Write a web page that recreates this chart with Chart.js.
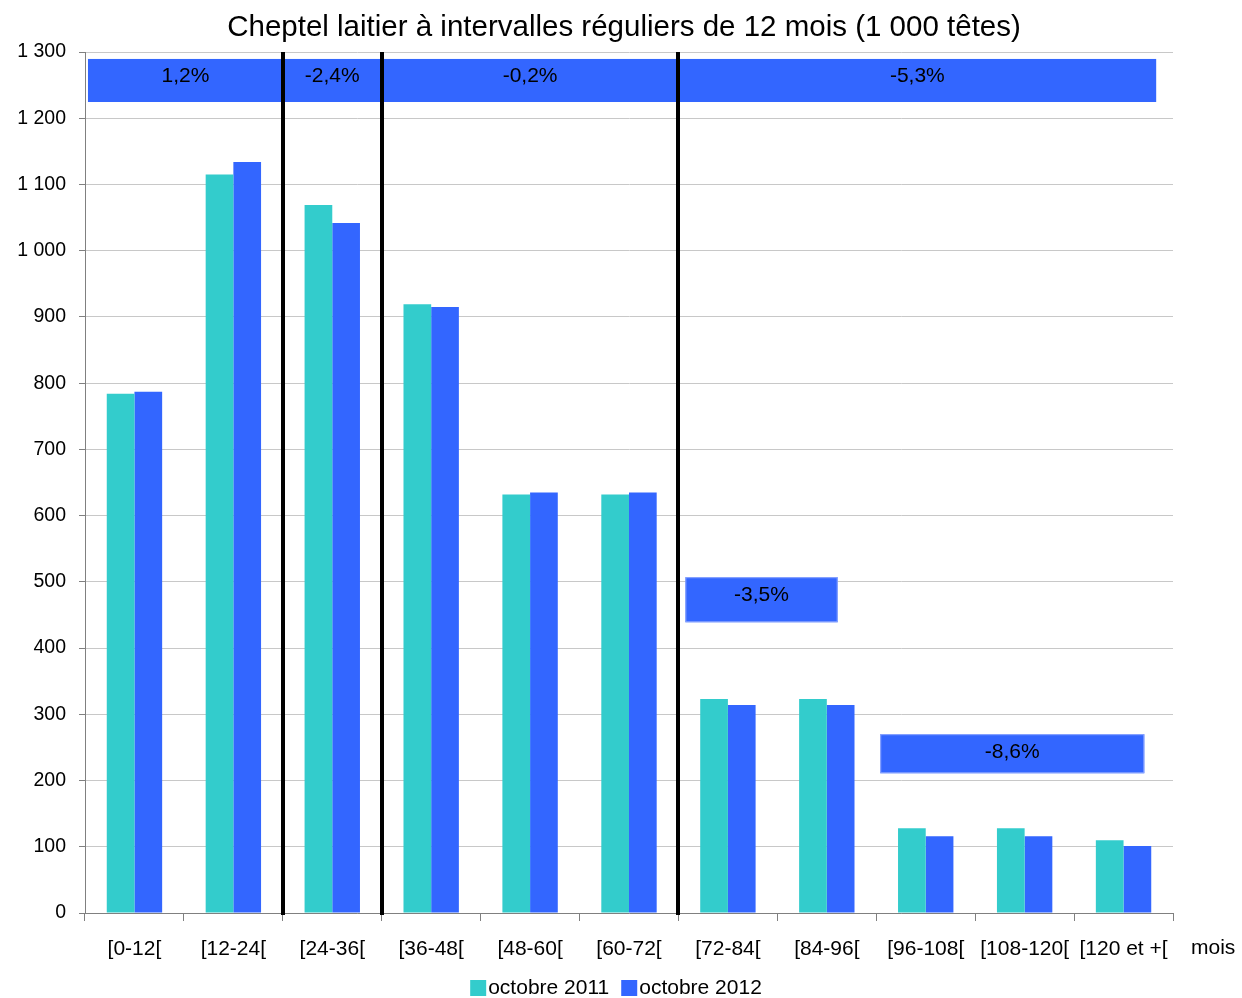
<!DOCTYPE html>
<html lang="fr">
<head>
  <meta charset="UTF-8" />
  <title>Cheptel laitier</title>
  <script src="https://cdn.jsdelivr.net/npm/chart.js"></script>
  <style>
    body { margin: 0; background: #fff; }
    #wrap { width: 1242px; height: 998px; }
  </style>
</head>
<body>
<div id="wrap"><canvas id="chart"></canvas></div>

<script>
  // data
  const categories = ['[0-12[', '[12-24[', '[24-36[', '[36-48[', '[48-60[', '[60-72[',
                      '[72-84[', '[84-96[', '[96-108[', '[108-120[', '[120 et +['];
  const oct2011 = [784, 1115, 1069, 919, 632, 632, 323, 323, 128, 128, 110];
  const oct2012 = [787, 1134, 1042, 915, 635, 635, 314, 314, 116, 116, 101];
  const seriesNames = ['octobre 2011', 'octobre 2012'];
  const bandLabels = ['1,2%', '-2,4%', '-0,2%', '-5,3%'];
  const boxLabels = ['-3,5%', '-8,6%'];
  const axisUnit = 'mois';
  const chartTitle = 'Cheptel laitier à intervalles réguliers de 12 mois (1 000 têtes)';

  const FONT = "'Liberation Sans', Arial, sans-serif";
  const TEAL = '#33CCCC';
  const BLUE = '#3366FF';

  // group band, separators and boxes, placed in data units (category index / value)
  const annotations = {
    band: { x0: -0.47, x1: 10.33, y0: 1224.5, y1: 1289.5 },
    breaks: [1.5, 2.5, 5.5],
    boxes: [
      { x0: 5.57, x1: 7.11, y0: 439, y1: 507 },
      { x0: 7.54, x1: 10.21, y0: 211, y1: 270 }
    ]
  };

  const extras = {
    id: 'extras',
    afterDatasetsDraw(chart) {
      const { ctx, chartArea, scales: { x, y } } = chart;
      const px = v => x.getPixelForValue(0) + (x.getPixelForValue(1) - x.getPixelForValue(0)) * v;
      ctx.save();
      ctx.textAlign = 'center';
      ctx.textBaseline = 'middle';

      // title
      ctx.fillStyle = '#000';
      ctx.font = '29.5px ' + FONT;
      ctx.fillText(chartTitle, 624, 28);

      ctx.font = '21px ' + FONT;

      // top band with segment labels
      const b = annotations.band;
      const bx0 = px(b.x0), bx1 = px(b.x1), by0 = y.getPixelForValue(b.y1), by1 = y.getPixelForValue(b.y0);
      ctx.fillStyle = BLUE;
      ctx.fillRect(bx0, by0, bx1 - bx0, by1 - by0);
      const edges = [bx0, ...annotations.breaks.map(px), bx1];
      ctx.fillStyle = '#000';
      bandLabels.forEach((t, i) => {
        ctx.fillText(t, (edges[i] + edges[i + 1]) / 2, by0 + 17);
      });

      // boxes
      annotations.boxes.forEach((bx, i) => {
        const l = px(bx.x0), r = px(bx.x1), t = y.getPixelForValue(bx.y1), btm = y.getPixelForValue(bx.y0);
        ctx.fillStyle = BLUE;
        ctx.fillRect(l, t, r - l, btm - t);
        ctx.strokeStyle = '#8fa8ff';
        ctx.lineWidth = 1;
        ctx.strokeRect(l + 0.5, t + 0.5, r - l - 1, btm - t - 1);
        ctx.fillStyle = '#000';
        ctx.fillText(boxLabels[i], (l + r) / 2, t + 18);
      });

      // black separators
      ctx.strokeStyle = '#000';
      ctx.lineWidth = 4;
      annotations.breaks.forEach(v => {
        const xx = Math.round(px(v));
        ctx.beginPath();
        ctx.moveTo(xx, chartArea.top);
        ctx.lineTo(xx, chartArea.bottom + 2);
        ctx.stroke();
      });

      // axis unit
      ctx.fillStyle = '#000';
      ctx.textAlign = 'left';
      ctx.fillText(axisUnit, chartArea.right + 18, 948);

      // legend
      const sets = chart.data.datasets;
      const widths = sets.map(d => 16 + 2 + ctx.measureText(d.label).width);
      const total = widths.reduce((a, w) => a + w, 0) + 12 * (sets.length - 1);
      let lx = 616 - total / 2;
      sets.forEach((d, i) => {
        ctx.fillStyle = d.backgroundColor;
        ctx.fillRect(lx, 980, 16, 16);
        ctx.fillStyle = '#000';
        ctx.fillText(d.label, lx + 18, 988);
        lx += widths[i] + 12;
      });
      ctx.restore();
    }
  };

  new Chart(document.getElementById('chart'), {
    type: 'bar',
    data: {
      labels: categories,
      datasets: [
        { label: seriesNames[0], data: oct2011, backgroundColor: TEAL },
        { label: seriesNames[1], data: oct2012, backgroundColor: BLUE }
      ]
    },
    options: {
      responsive: true,
      maintainAspectRatio: false,
      animation: false,
      categoryPercentage: 0.56,
      barPercentage: 1,
      layout: { padding: { left: 0, right: 69, top: 52, bottom: 35 } },
      plugins: {
        legend: { display: false },
        tooltip: { enabled: false },
        title: { display: false }
      },
      scales: {
        x: {
          grid: { display: true, drawOnChartArea: false, drawTicks: true, tickLength: 8, color: '#808080' },
          border: { color: '#808080', width: 1 },
          ticks: {
            color: '#000', font: { family: FONT, size: 21 },
            maxRotation: 0, autoSkip: false, padding: 16
          },
          afterFit(scale) { scale.height = 50; }
        },
        y: {
          min: 0, max: 1300,
          ticks: {
            stepSize: 100, color: '#000', font: { family: FONT, size: 19.5 }, padding: 13,
            callback: v => String(v).replace(/\B(?=(\d{3})+(?!\d))/g, ' ')
          },
          grid: { color: '#c8c8c8', tickColor: '#808080', tickLength: 6 },
          border: { color: '#808080', width: 1 },
          afterFit(scale) { scale.width = 85; }
        }
      }
    },
    plugins: [extras]
  });
</script>
</body>
</html>
